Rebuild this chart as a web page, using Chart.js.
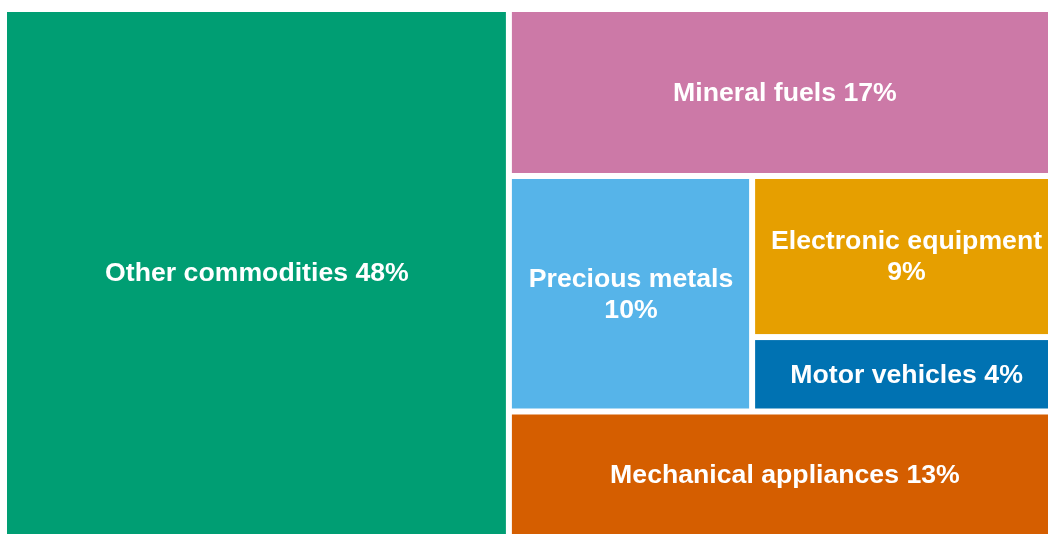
<!DOCTYPE html>
<html>
<head>
<meta charset="utf-8">
<script src="https://cdn.jsdelivr.net/npm/chart.js@4.4.1/dist/chart.umd.min.js"></script>
<style>
  html, body { margin: 0; padding: 0; background: #fff; overflow: hidden; }
  #frame { width: 1048px; height: 534px; overflow: hidden; position: relative; }
  /* the map runs a little past the right edge of the frame */
  #wrap { width: 1057px; height: 534px; position: relative; }
  .fontprobe { position: absolute; left: -9999px; font: bold 26.67px "Liberation Sans"; }
</style>
</head>
<body>
<span class="fontprobe">Other commodities 48%</span>
<div id="frame"><div id="wrap"><canvas id="grafico"></canvas></div></div>
<script>
// categories and their shares (labels as printed, areas)
const categories = ['Other commodities', 'Mineral fuels', 'Precious metals', 'Electronic equipment', 'Motor vehicles', 'Mechanical appliances'];
const shareLabels = ['48%', '17%', '10%', '9%', '4%', '13%'];
const areas = [47.8, 16.4, 10.45, 8.96, 4.14, 12.25];
const colors = ['#009E73', '#CC79A7', '#56B4E9', '#E69F00', '#0072B2', '#D55E00'];

const labelFont = 'bold 26.67px "Liberation Sans", Arial, sans-serif';
const frameWidth = 1048;

// slice and dice in data units (0..100 on both axes)
function layoutCells() {
  const total = areas.reduce((a, b) => a + b, 0);
  const cells = [];
  const wOther = areas[0] / total * 100;
  cells[0] = { x0: 0, x1: wOther, y0: 0, y1: 100 };

  const right = total - areas[0];
  const mid = areas[2] + areas[3] + areas[4];
  const hTop = areas[1] / right * 100;
  const hMid = mid / right * 100;
  cells[1] = { x0: wOther, x1: 100, y0: 0, y1: hTop };
  cells[5] = { x0: wOther, x1: 100, y0: hTop + hMid, y1: 100 };

  const xSplit = wOther + areas[2] / mid * (100 - wOther);
  cells[2] = { x0: wOther, x1: xSplit, y0: hTop, y1: hTop + hMid };
  const ySplit = hTop + areas[3] / (areas[3] + areas[4]) * hMid;
  cells[3] = { x0: xSplit, x1: 100, y0: hTop, y1: ySplit };
  cells[4] = { x0: xSplit, x1: 100, y0: ySplit, y1: hTop + hMid };
  return cells;
}

function wrapText(ctx, text, maxW) {
  const words = text.split(' ');
  const lines = [];
  let line = '';
  words.forEach(w => {
    const test = line ? line + ' ' + w : w;
    if (ctx.measureText(test).width > maxW && line) {
      lines.push(line);
      line = w;
    } else {
      line = test;
    }
  });
  if (line) lines.push(line);
  return lines;
}

const treemapPlugin = {
  id: 'treemapCells',
  beforeDatasetsDraw(chart) {
    const ctx = chart.ctx;
    const xs = chart.scales.x, ys = chart.scales.y;
    const gap = 3;
    const cells = layoutCells();
    ctx.save();
    cells.forEach((c, i) => {
      let left = xs.getPixelForValue(c.x0);
      let right = xs.getPixelForValue(c.x1);
      let top = ys.getPixelForValue(c.y0);
      let bottom = ys.getPixelForValue(c.y1);
      if (c.x0 > 0) left += gap;
      if (c.x1 < 100) right -= gap;
      if (c.y0 > 0) top += gap;
      if (c.y1 < 100) bottom -= gap;

      ctx.fillStyle = colors[i];
      ctx.fillRect(left, top, right - left, bottom - top);

      // label
      ctx.font = labelFont;
      ctx.fillStyle = '#ffffff';
      ctx.textAlign = 'center';
      ctx.textBaseline = 'middle';
      // the visible part of the cell decides the wrap width
      const visRight = Math.min(right, frameWidth);
      const lines = wrapText(ctx, categories[i] + ' ' + shareLabels[i], visRight - left - 14);
      const lh = 31;
      const cx = (left + right) / 2 + 0.5;
      const cy = (top + bottom) / 2 + 1;
      lines.forEach((ln, k) => {
        ctx.fillText(ln, cx, cy + (k - (lines.length - 1) / 2) * lh);
      });
    });
    ctx.restore();
  }
};

function makeChart() {
  new Chart(document.getElementById('grafico'), {
    type: 'scatter',
    data: { datasets: [{ data: [] }] },
    options: {
      responsive: true,
      maintainAspectRatio: false,
      animation: false,
      layout: { padding: { left: 7, top: 12, right: 0, bottom: 0 } },
      scales: {
        x: { type: 'linear', min: 0, max: 100, display: false },
        y: { type: 'linear', min: 0, max: 100, reverse: true, display: false }
      },
      plugins: { legend: { display: false }, tooltip: { enabled: false } }
    },
    plugins: [treemapPlugin]
  });
}

document.fonts.load(labelFont).then(makeChart, makeChart);
</script>
</body>
</html>
